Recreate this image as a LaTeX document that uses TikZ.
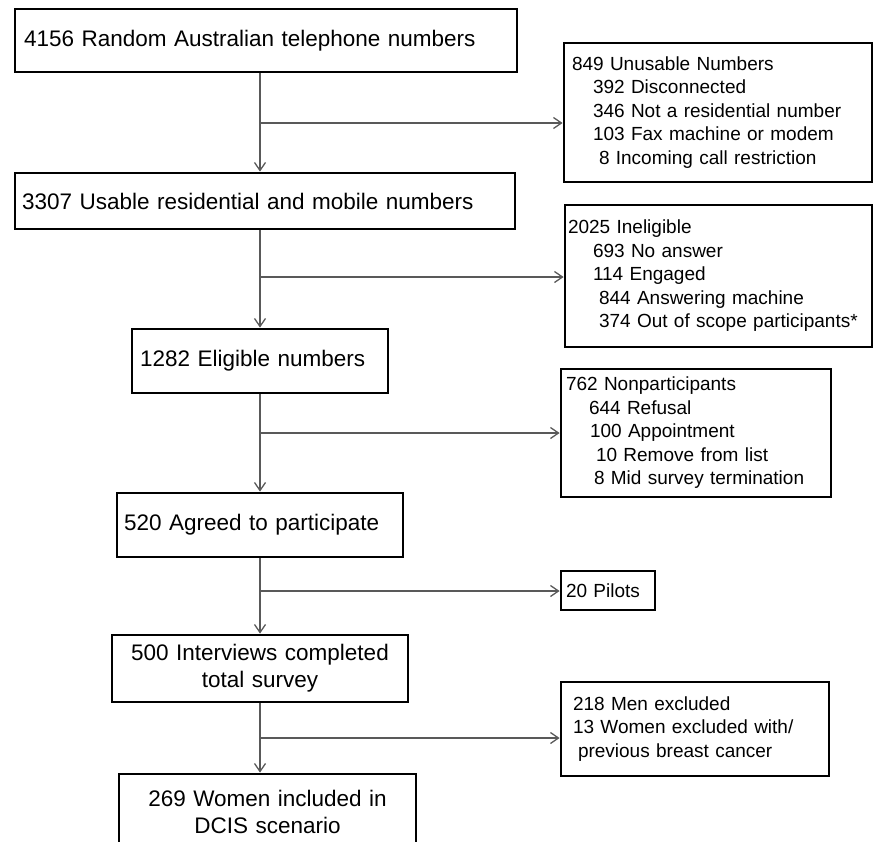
\documentclass[tikz,border=0pt]{standalone}
\usepackage{fontspec}
\setmainfont{Liberation Sans}
\usetikzlibrary{arrows.meta}

\tikzset{
  mainbox/.style={draw, line width=2.8pt, inner ysep=0pt, font=\fontsize{22.5}{27}\selectfont},
  sidebox/.style={draw, line width=2.8pt, inner ysep=0pt, align=left, font=\fontsize{19}{23.5}\selectfont},
  link/.style={draw=black!65, line width=1.3pt},
  arr/.style={link, -{Straight Barb[length=8pt,width=11pt]}}
}

\begin{document}
\begin{tikzpicture}[x=1pt,y=-1pt]
    \useasboundingbox (0,0) rectangle (875,841);
    \clip (0,0) rectangle (875,841);
    \node[mainbox, align=left, minimum width=502pt, minimum height=63pt, inner xsep=9pt, text width=484pt] (start) at (266,40.5) {4156 Random Australian telephone numbers};
    \node[mainbox, align=left, minimum width=500pt, minimum height=56pt, inner xsep=7pt, text width=486pt] (usable) at (265,201) {3307 Usable residential and mobile numbers};
    \node[mainbox, align=left, minimum width=256pt, minimum height=64pt, inner xsep=8pt, text width=240pt] (eligible) at (260,361) {1282 Eligible numbers};
    \node[mainbox, align=left, minimum width=286pt, minimum height=64pt, inner xsep=7pt, text width=272pt] (agreed) at (260,525) {520 Agreed to participate};
    \node[mainbox, align=center, minimum width=296pt, minimum height=67pt, inner xsep=7pt, text width=282pt] (interviews) at (260,668.5) {500 Interviews completed\\total survey};
    \node[mainbox, align=center, minimum width=297pt, minimum height=76pt, inner xsep=7pt, text width=283pt] (women) at (267.5,812) {269 Women included in\\DCIS scenario};
    \node[sidebox, minimum width=308pt, minimum height=139pt, inner xsep=8pt, text width=292pt] (unusable) at (718,112.5) {849 Unusable Numbers\\
      \hspace*{21pt}392 Disconnected\\
      \hspace*{21pt}346 Not a residential number\\
      \hspace*{21pt}103 Fax machine or modem\\
      \hspace*{27pt}8 Incoming call restriction};
    \node[sidebox, minimum width=307pt, minimum height=142pt, inner xsep=3pt, text width=301pt] (ineligible) at (718.5,276) {2025 Ineligible\\
      \hspace*{25pt}693 No answer\\
      \hspace*{25pt}114 Engaged\\
      \hspace*{31pt}844 Answering machine\\
      \hspace*{31pt}374 Out of scope participants*};
    \node[sidebox, minimum width=270pt, minimum height=128pt, inner xsep=5pt, text width=260pt] (nonpart) at (696,433) {762 Nonparticipants\\
      \hspace*{23pt}644 Refusal\\
      \hspace*{24pt}100 Appointment\\
      \hspace*{30pt}10 Remove from list\\
      \hspace*{28pt}8 Mid survey termination};
    \node[sidebox, minimum width=94pt, minimum height=39pt, inner xsep=5pt, text width=84pt] (pilots) at (608,590.5) {20 Pilots};
    \node[sidebox, minimum width=268pt, minimum height=94pt, inner xsep=12pt, text width=244pt] (excluded) at (695,729) {218 Men excluded\\
      13 Women excluded with/\\
      \hspace*{5pt}previous breast cancer};
    \foreach \ua/\ub/\uc/\y in {start/usable/unusable/123, usable/eligible/ineligible/277,
        eligible/agreed/nonpart/433, agreed/interviews/pilots/591, interviews/women/excluded/738} {
      \coordinate (j\y) at (260,\y);
      \draw[arr] (\ua.south -| j\y) -- (\ub.north -| j\y);
      \draw[arr] (j\y) -- (j\y -| \uc.west);
    }
\end{tikzpicture}
\end{document}
